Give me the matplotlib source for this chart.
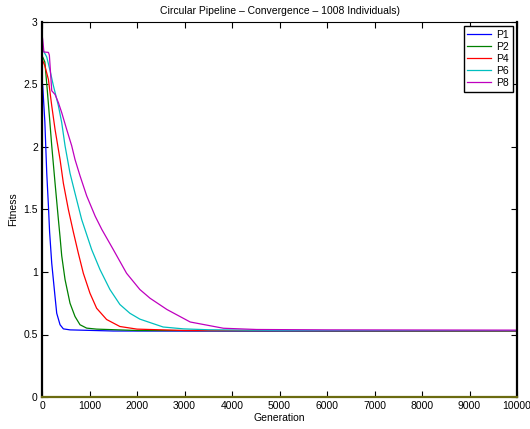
import matplotlib
matplotlib.use("Agg")
import matplotlib.pyplot as plt

plt.rcParams['font.family'] = ['Liberation Sans', 'DejaVu Sans']

title = "Circular Pipeline \u2013 Convergence \u2013 1008 Individuals)"
labels = ["P1", "P2", "P4", "P6", "P8"]
colors = ["#0000ff", "#008000", "#ff0000", "#00bfbf", "#bf00bf"]

gen_p1 = [0, 15, 60, 100, 135, 160, 205, 275, 310, 380, 450, 590, 1500, 10000]
fit_p1 = [2.52, 2.49, 2.20, 1.79, 1.53, 1.32, 1.07, 0.80, 0.67, 0.578, 0.545, 0.537, 0.528, 0.525]

gen_p2 = [0, 15, 60, 110, 155, 205, 275, 345, 380, 415, 485, 590, 695, 800, 940, 1150, 2000, 10000]
fit_p2 = [2.70, 2.72, 2.68, 2.46, 2.25, 2.01, 1.71, 1.42, 1.28, 1.13, 0.94, 0.75, 0.644, 0.578, 0.551, 0.543, 0.532, 0.527]

gen_p4 = [0, 15, 60, 135, 205, 275, 380, 450, 555, 660, 765, 870, 1010, 1150, 1360, 1640, 2000, 3000, 10000]
fit_p4 = [2.66, 2.69, 2.65, 2.54, 2.33, 2.14, 1.90, 1.71, 1.50, 1.32, 1.15, 0.99, 0.83, 0.71, 0.62, 0.564, 0.543, 0.532, 0.528]

gen_p6 = [0, 15, 100, 170, 240, 345, 415, 485, 590, 695, 835, 905, 1045, 1220, 1430, 1640,
          1850, 2060, 2550, 2980, 3500, 5000, 10000]
fit_p6 = [2.81, 2.78, 2.72, 2.61, 2.49, 2.33, 2.195, 2.01, 1.79, 1.63, 1.42, 1.34, 1.18, 1.02, 0.86, 0.74,
          0.67, 0.623, 0.56, 0.545, 0.538, 0.532, 0.530]

gen_p8 = [0, 15, 40, 135, 155, 205, 275, 345, 415, 520, 625, 695, 800, 940, 1120, 1260, 1500,
          1780, 2060, 2275, 2630, 3120, 3820, 4520, 6000, 10000]
fit_p8 = [2.90, 2.86, 2.76, 2.757, 2.735, 2.45, 2.42, 2.355, 2.275, 2.14, 2.01, 1.90, 1.77, 1.61, 1.446, 1.34, 1.18,
          0.99, 0.86, 0.79, 0.70, 0.60, 0.55, 0.540, 0.537, 0.535]

series = [(gen_p1, fit_p1), (gen_p2, fit_p2), (gen_p4, fit_p4), (gen_p6, fit_p6), (gen_p8, fit_p8)]

xticks = [0, 1000, 2000, 3000, 4000, 5000, 6000, 7000, 8000, 9000, 10000]
yticks = [0, 0.5, 1, 1.5, 2, 2.5, 3]
ytick_labels = ["0", "0.5", "1", "1.5", "2", "2.5", "3"]

fig = plt.figure(figsize=(5.30, 4.29), dpi=100)
ax = fig.add_axes([42/530, 32/429, (517-42)/530, (397-22)/429])

for (g, f), lab, c in zip(series, labels, colors):
    ax.plot(g, f, color=c, lw=0.9, label=lab)

ax.set_xlim(0, 10000)
ax.set_ylim(0, 3)
ax.set_xticks(xticks)
ax.set_xticklabels([str(t) for t in xticks])
ax.set_yticks(yticks)
ax.set_yticklabels(ytick_labels)
ax.tick_params(direction='in', length=4, width=0.8, top=True, right=True,
               labelsize=7.5, pad=3)
for s in ['left', 'right']:
    ax.spines[s].set_linewidth(1.6)
ax.spines['top'].set_linewidth(0.8)
ax.spines['bottom'].set_linewidth(1.6)
ax.spines['bottom'].set_color('#6b6b10')

ax.set_title(title, fontsize=7.5, pad=6)
ax.set_xlabel("Generation", fontsize=7.5, labelpad=1)
ax.set_ylabel("Fitness", fontsize=7.5, labelpad=4)

leg = ax.legend(loc='upper right', fontsize=7.5, handlelength=2.3,
                labelspacing=0.2, borderpad=0.35, borderaxespad=0.4,
                handletextpad=0.5, fancybox=False, framealpha=1)
leg.get_frame().set_edgecolor('black')
leg.get_frame().set_linewidth(1.0)

fig.savefig("out.png", dpi=100)
